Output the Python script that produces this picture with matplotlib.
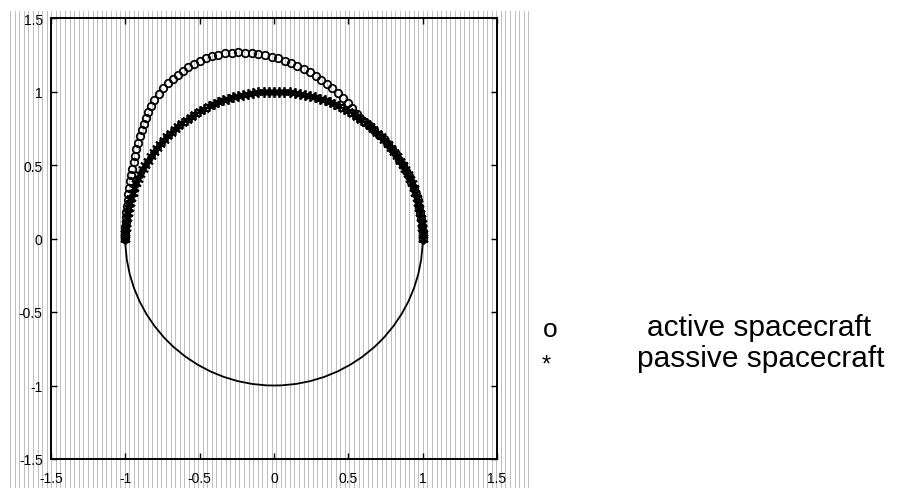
import numpy as np
import matplotlib
matplotlib.use("Agg")
import matplotlib.pyplot as plt
from matplotlib.patches import Circle

# ---------------- data ----------------
orbit_radius = 1.0

# active spacecraft positions (x, y)
active_x = [1.000, 0.999, 0.996, 0.991, 0.985, 0.976, 0.966, 0.954, 0.940, 0.924,
            0.906, 0.887, 0.866, 0.843, 0.819, 0.793, 0.766, 0.737, 0.707, 0.676,
            0.643, 0.609, 0.578,
            0.555, 0.525, 0.495, 0.462, 0.428, 0.392, 0.355, 0.318, 0.280, 0.240,
            0.200, 0.158, 0.115, 0.072, 0.028, -0.016, -0.060, -0.105, -0.150, -0.195,
            -0.240, -0.285, -0.330, -0.375, -0.418, -0.460, -0.500, -0.540, -0.578, -0.614,
            -0.648, -0.682, -0.713, -0.745, -0.775, -0.805, -0.826, -0.845, -0.862, -0.877,
            -0.891, -0.904, -0.916, -0.926, -0.936, -0.945, -0.953, -0.960, -0.967, -0.973,
            -0.979, -0.984, -0.989, -0.993, -0.996, -0.998, -0.999, -1.000, -1.000, -1.000, -1.000]
active_y = [0.000, 0.044, 0.087, 0.131, 0.174, 0.216, 0.259, 0.301, 0.342, 0.383,
            0.423, 0.462, 0.500, 0.537, 0.574, 0.609, 0.643, 0.676, 0.707, 0.737,
            0.766, 0.793, 0.818,
            0.850, 0.885, 0.920, 0.955, 0.990, 1.022, 1.052, 1.080, 1.107, 1.132,
            1.155, 1.175, 1.193, 1.210, 1.225, 1.237, 1.248, 1.256, 1.262, 1.265,
            1.266, 1.264, 1.259, 1.251, 1.240, 1.226, 1.209, 1.189, 1.166, 1.140,
            1.112, 1.084, 1.055, 1.022, 0.985, 0.945, 0.902, 0.862, 0.821, 0.779,
            0.737, 0.694, 0.651, 0.607, 0.563, 0.519, 0.475, 0.431, 0.388, 0.345,
            0.303, 0.262, 0.222, 0.183, 0.146, 0.112, 0.080, 0.052, 0.028, 0.010, 0.000]

# passive spacecraft: positions along the unit orbit, angle in degrees
passive_angle_deg = [0, 2, 4, 6, 8, 10, 12, 14, 16, 18, 20, 22, 24, 26, 28, 30,
                     32, 34, 36, 38, 40, 42, 44, 46, 48, 50, 52, 54, 56, 58, 60,
                     62, 64, 66, 68, 70, 72, 74, 76, 78, 80, 82, 84, 86, 88, 90,
                     92, 94, 96, 98, 100, 102, 104, 106, 108, 110, 112, 114, 116, 118, 120,
                     122, 124, 126, 128, 130, 132, 134, 136, 138, 140, 142, 144, 146, 148, 150,
                     152, 154, 156, 158, 160, 162, 164, 166, 168, 170, 172, 174, 176, 178, 180]

ticks = [-1.5, -1, -0.5, 0, 0.5, 1, 1.5]
tick_labels = ["-1.5", "-1", "-0.5", "0", "0.5", "1", "1.5"]

legend_symbols = ["o", "*"]
legend_labels = ["active spacecraft", "passive spacecraft"]

# ---------------- figure ----------------
W, H = 909, 489
fig = plt.figure(figsize=(W / 100, H / 100), dpi=100)
plt.rcParams['font.family'] = ['Liberation Sans', 'DejaVu Sans']

# scanned vertical hatching behind the plot
bg = fig.add_axes([10 / W, 0, (533 - 10) / W, (489 - 12) / H], zorder=0)
bg.set_xlim(0, 1)
bg.set_ylim(0, 1)
bg.axis("off")
for xv in np.linspace(0, 1, 115):
    bg.axvline(xv, color="#bdbdbd", lw=0.7)

ax = fig.add_axes([51 / W, (H - 460) / H, (497 - 51) / W, (460 - 19) / H], zorder=1)
ax.set_facecolor("none")
ax.set_xlim(-1.5, 1.5)
ax.set_ylim(-1.5, 1.5)

ax.add_patch(Circle((0, 0), orbit_radius, fill=False, ec="black", lw=1.3, zorder=2))

ang = np.deg2rad(np.array(passive_angle_deg, dtype=float))
px = orbit_radius * np.cos(ang)
py = orbit_radius * np.sin(ang)
ax.plot(px, py, linestyle="none", marker=(6, 2, 0), markersize=7.5,
        markeredgewidth=1.3, color="black", zorder=3)
ax.plot(active_x, active_y, linestyle="none", marker="o", markersize=5.4,
        markerfacecolor="none", markeredgecolor="black", markeredgewidth=1.25, zorder=4)

ax.set_xticks(ticks)
ax.set_yticks(ticks)
ax.set_xticklabels(tick_labels)
ax.set_yticklabels(tick_labels)
ax.tick_params(direction="in", length=4, width=1, top=True, right=True,
               labelsize=10, pad=6)
ax.tick_params(axis="x", pad=9)
for s in ax.spines.values():
    s.set_linewidth(1.4)

# legend as free text
fig.text(543 / W, 1 - 337 / H, legend_symbols[0], fontsize=19, ha="left", va="baseline")
fig.text(542 / W, 1 - 372 / H, legend_symbols[1], fontsize=17, ha="left", va="baseline")
fig.text(647 / W, 1 - 336 / H, legend_labels[0], fontsize=21.5, ha="left", va="baseline")
fig.text(637 / W, 1 - 367 / H, legend_labels[1], fontsize=21.5, ha="left", va="baseline")

fig.savefig("out.png", dpi=100)
